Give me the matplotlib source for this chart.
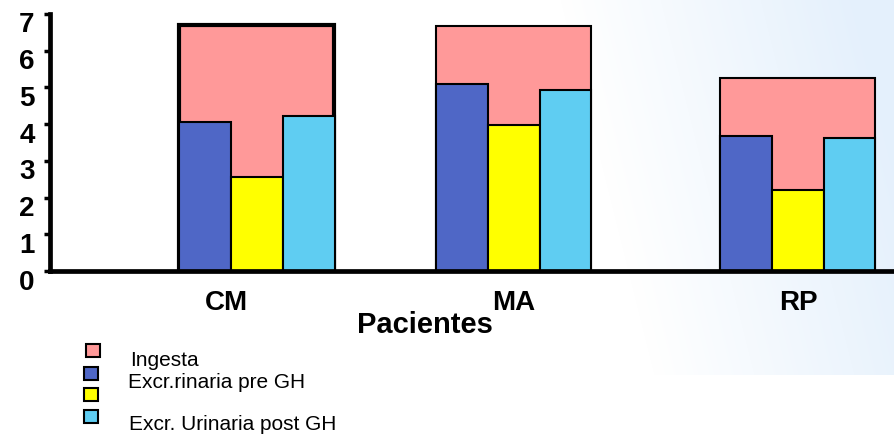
import numpy as np
import matplotlib
matplotlib.use("Agg")
import matplotlib.pyplot as plt
import matplotlib.transforms as mtransforms
from matplotlib.patches import Rectangle

# ---- data ----
categories = ["CM", "MA", "RP"]
ingesta = [6.70, 6.68, 5.26]
excr_pre = [4.06, 5.10, 3.68]
excr_mid = [2.56, 3.98, 2.20]
excr_post = [4.22, 4.93, 3.62]
series_labels = ["Ingesta", "Excr.rinaria pre GH", "Excr. Urinaria post GH"]
yticks = [0, 1, 2, 3, 4, 5, 6, 7]

# ---- layout (not data) ----
group_x = [257, 514, 798]
big_w = 155
sub_w = big_w / 3
c_pink, c_blue, c_yel, c_cyan = "#FF9999", "#4F67C6", "#FFFF00", "#5FCDF2"

plt.rcParams["font.family"] = ["Liberation Sans", "DejaVu Sans"]
fig = plt.figure(figsize=(8.95, 4.37), dpi=100)
W, H = 895, 437

# background gradient (light blue on the right, above y=375px)
bg = fig.add_axes([0, 0, 1, 1], zorder=-10)
X, Y = np.meshgrid(np.arange(W), np.arange(H))
t = np.clip((X - 560 - 0.25 * Y) / 300, 0, 1)
t = t * (Y < 375)
white = np.array([1.0, 1.0, 1.0])
blue = np.array([0xE4, 0xF0, 0xFC]) / 255.0
img = white[None, None, :] * (1 - t[..., None]) + blue[None, None, :] * t[..., None]
bg.imshow(img, origin="upper", extent=[0, 1, 0, 1], aspect="auto")
bg.set_axis_off()

ax = fig.add_axes([50 / W, (H - 271) / H, 1 - 50 / W, (271 - 14) / H])
ax.patch.set_alpha(0)
ax.set_xlim(50, 895)
ax.set_ylim(0, 7)

for i, gx in enumerate(group_x):
    lw = 3.0 if i == 0 else 1.5
    ax.bar(gx, ingesta[i], width=big_w, color=c_pink, edgecolor="black",
           linewidth=lw, zorder=2)
    ax.bar(gx - sub_w, excr_pre[i], width=sub_w, color=c_blue, edgecolor="black",
           linewidth=1.5, zorder=3)
    ax.bar(gx, excr_mid[i], width=sub_w, color=c_yel, edgecolor="black",
           linewidth=1.5, zorder=3)
    ax.bar(gx + sub_w, excr_post[i], width=sub_w, color=c_cyan, edgecolor="black",
           linewidth=1.5, zorder=3)

for s in ["top", "right"]:
    ax.spines[s].set_visible(False)
ax.spines["left"].set_linewidth(3.4)
ax.spines["bottom"].set_linewidth(3.4)
ax.spines["bottom"].set_zorder(5)
ax.spines["left"].set_zorder(5)

ax.set_yticks(yticks)
ax.set_yticklabels([str(v) for v in yticks], fontsize=20, fontweight="bold")
ax.tick_params(axis="y", length=4, width=2.5, pad=7)
for lb in ax.get_yticklabels():
    lb.set_transform(lb.get_transform() + mtransforms.ScaledTranslation(0, -0.085, fig.dpi_scale_trans))

ax.set_xticks(group_x)
ax.set_xticklabels(categories, fontsize=20, fontweight="bold")
ax.tick_params(axis="x", length=0, pad=14)
lbl = ax.get_xticklabels()[0]
lbl.set_transform(lbl.get_transform() + mtransforms.ScaledTranslation(-0.31, 0, fig.dpi_scale_trans))

ax.set_xlabel("Pacientes", fontsize=21, fontweight="bold")
ax.xaxis.set_label_coords((425 - 50) / (895 - 50), -(325 - 271) / (271 - 14))
ax.xaxis.label.set_va("center")

# manual legend
colors = [c_pink, c_blue, c_yel, c_cyan]
sq_y = [344, 367, 388, 410]
sq_x = [86, 84, 84, 84]
for c, x, y in zip(colors, sq_x, sq_y):
    fig.patches.append(Rectangle((x / W, 1 - (y + 13) / H), 14 / W, 13 / H,
                                 transform=fig.transFigure, facecolor=c,
                                 edgecolor="black", linewidth=1.5))
txt_pos = [(130, 361), (128, 383), (129, 425)]
for lab, (x, y) in zip(series_labels, txt_pos):
    fig.text(x / W, 1 - y / H, lab, fontsize=15, va="center", ha="left")

fig.savefig("out.png", dpi=100)
